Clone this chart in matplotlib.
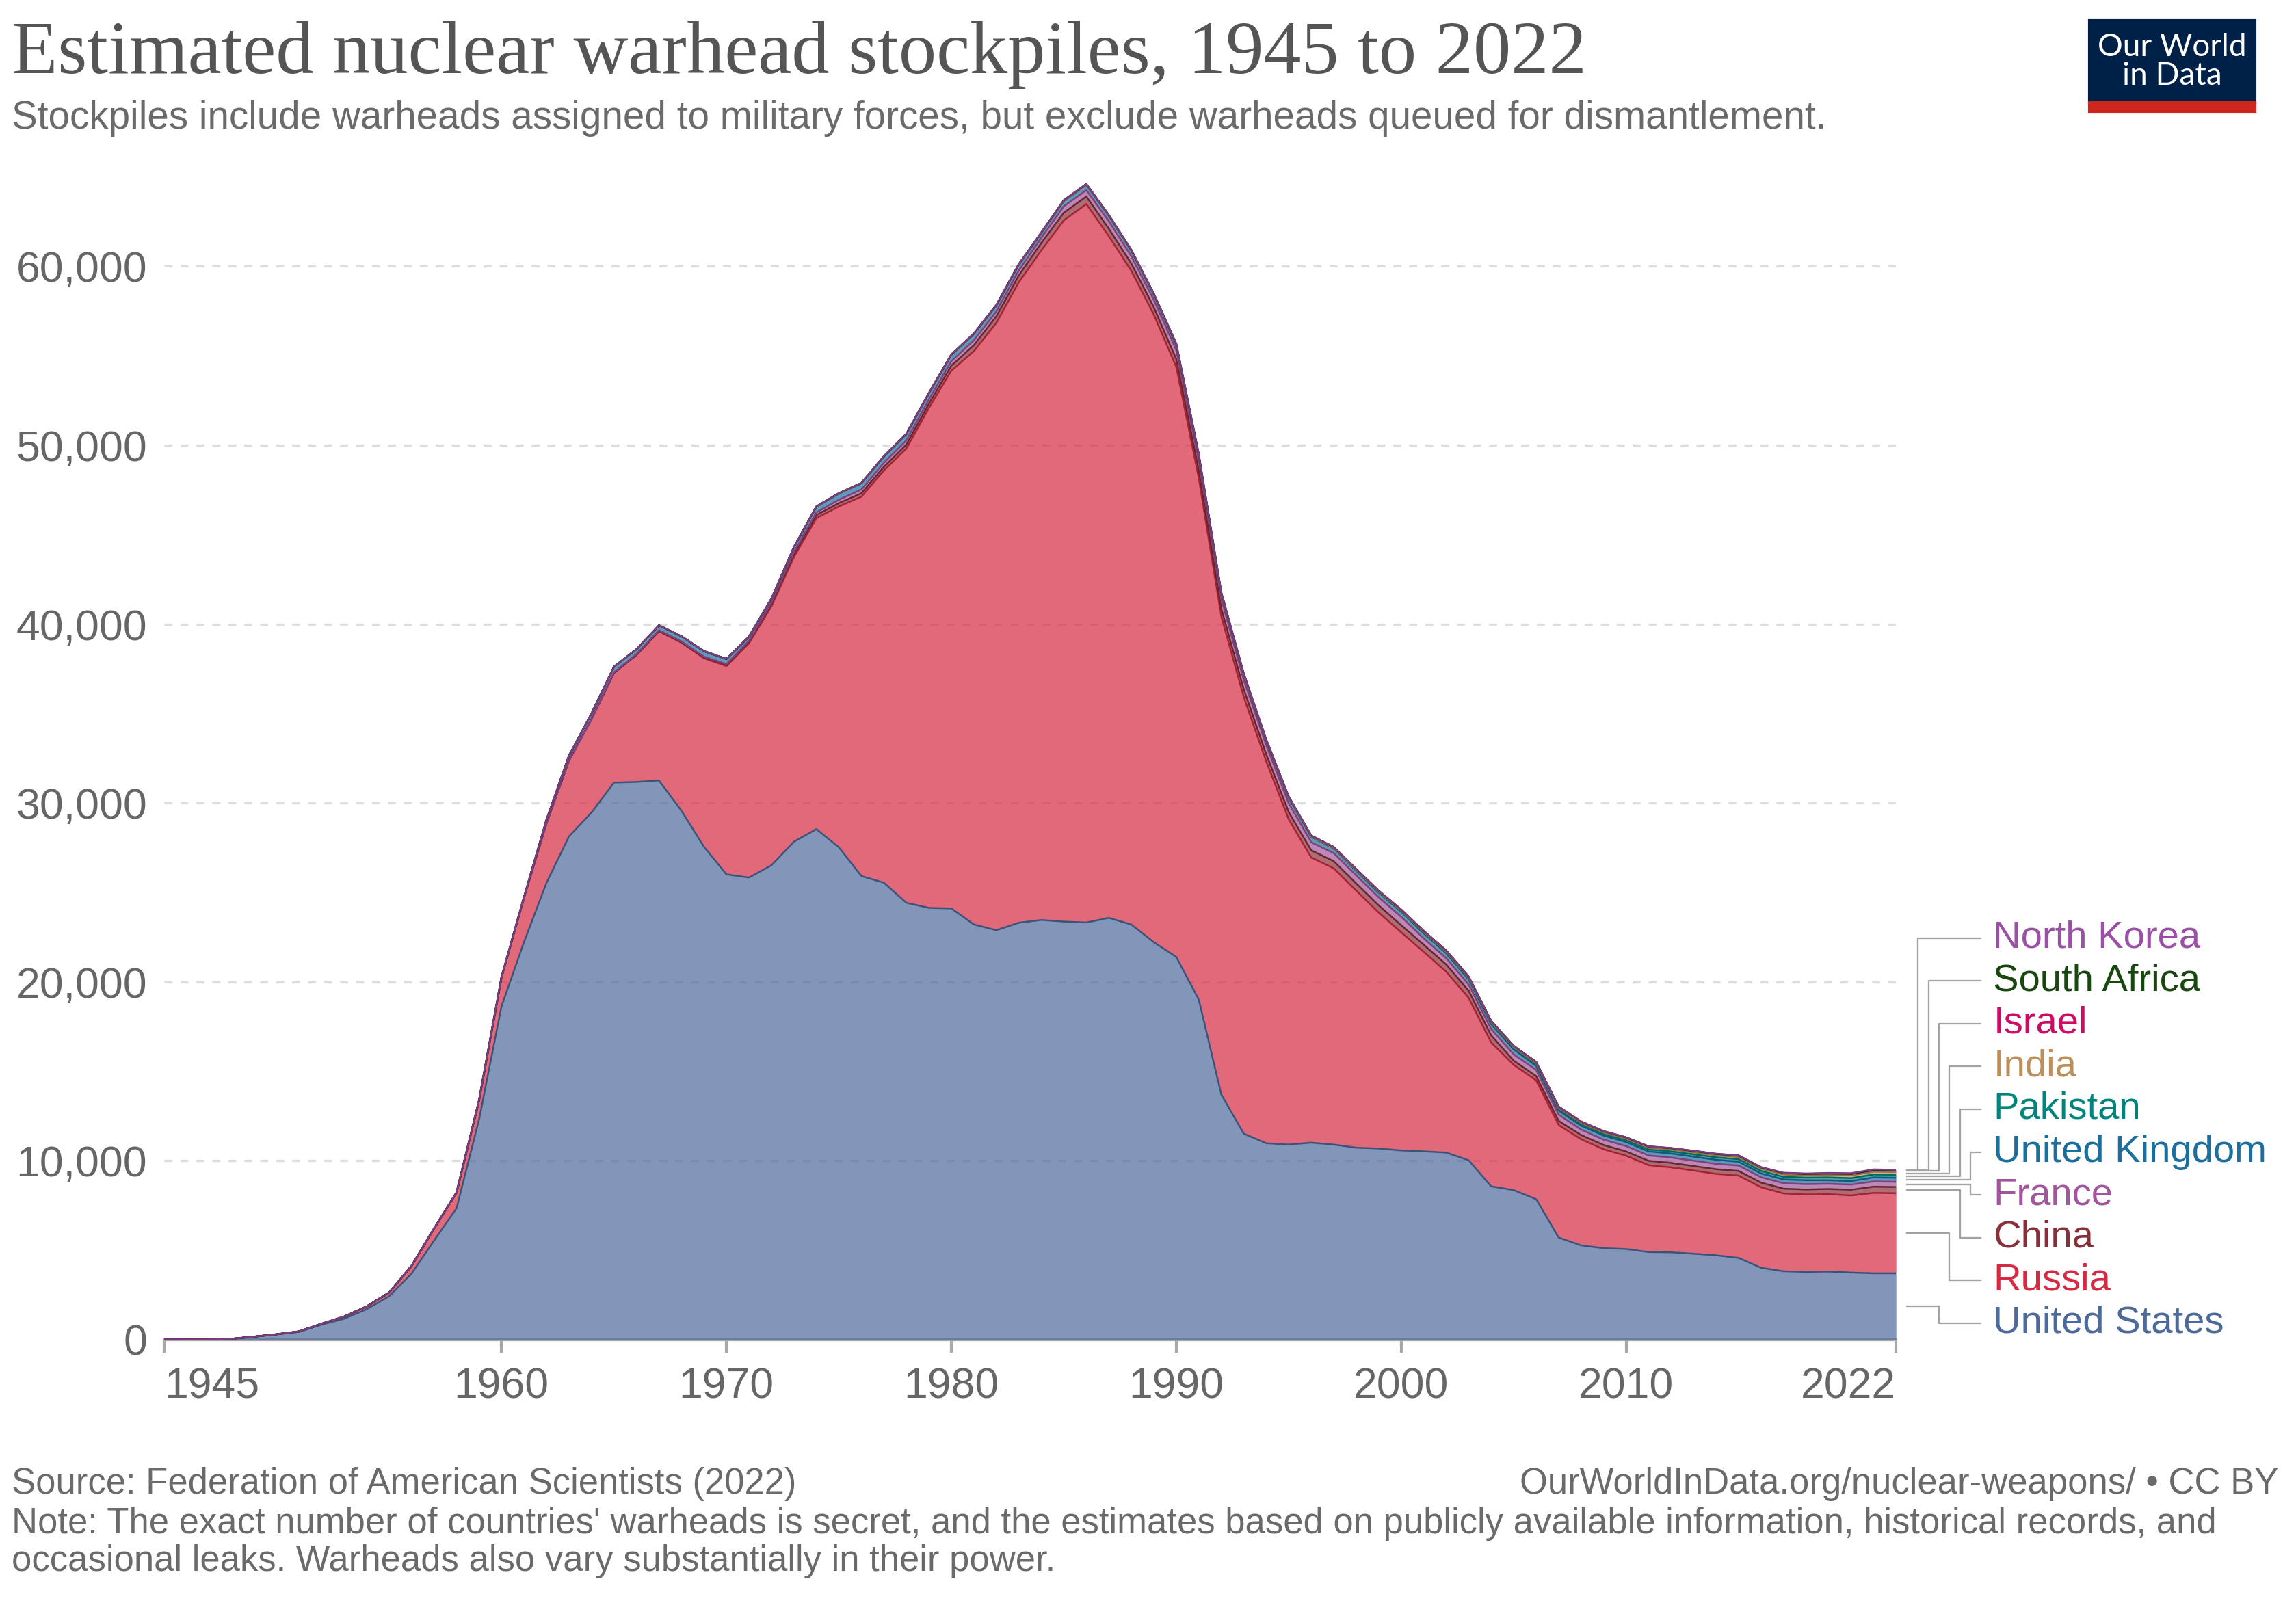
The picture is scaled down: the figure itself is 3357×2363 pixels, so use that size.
"""Estimated nuclear warhead stockpiles, 1945 to 2022 (stacked area, OWID style)."""

import matplotlib

matplotlib.use("Agg")
import matplotlib.pyplot as plt
import numpy as np
from matplotlib.patches import Rectangle

FIRST_YEAR, LAST_YEAR = 1945, 2022

# Warheads per country, one value per year from its start year up to 2022.
US_START = 1945
US = [2, 9, 13, 50, 170, 299, 438, 841, 1169, 1703,
      2422, 3692, 5543, 7345, 12298, 18638, 22229, 25540, 28133, 29463,
      31139, 31175, 31255, 29561, 27552, 26008, 25830, 26516, 27835, 28537,
      27519, 25914, 25542, 24418, 24138, 24104, 23208, 22886, 23305, 23459,
      23368, 23317, 23575, 23205, 22217, 21392, 19008, 13708, 11511, 10979,
      10904, 11011, 10903, 10732, 10685, 10577, 10526, 10457, 10027, 8570,
      8360, 7853, 5709, 5273, 5113, 5066, 4897, 4881, 4804, 4717,
      4571, 4018, 3822, 3785, 3805, 3750, 3708, 3708]

RUSSIA_START = 1949
RUSSIA = [1, 5, 25, 50, 120, 150,
          200, 426, 660, 869, 1060, 1605, 2471, 3322, 4238, 5221,
          6129, 7089, 8339, 9399, 10538, 11643, 13092, 14478, 15915, 17385,
          19055, 21205, 23044, 25393, 27935, 30062, 32049, 33952, 35804, 37431,
          39197, 40159, 38107, 36538, 35078, 32980, 29154, 26734, 24403, 21339,
          18179, 15942, 15442, 14368, 13188, 12188, 11152, 10114, 9076, 8038,
          7000, 6643, 6286, 5929, 5527, 5215, 4858, 4750, 4650, 4550,
          4600, 4500, 4350, 4330, 4330, 4310, 4495, 4477]

CHINA_START = 1964
CHINA = [1, 5, 20, 25, 35, 50, 75, 100, 130, 150,
         170, 185, 190, 200, 220, 235, 280, 330, 360, 380,
         414, 426, 423, 415, 411, 412, 434, 434, 434, 434,
         400, 400, 400, 400, 400, 400, 400, 400, 400, 400,
         400, 235, 235, 235, 235, 240, 240, 240, 250, 250,
         260, 260, 260, 270, 280, 290, 320, 350, 350]

FRANCE_START = 1964
FRANCE = [4, 32, 36, 36, 36, 36, 36, 45, 70, 116,
          145, 188, 212, 228, 235, 235, 250, 274, 274, 279,
          280, 360, 355, 420, 410, 410, 505, 540, 540, 525,
          510, 500, 450, 450, 450, 450, 470, 350, 350, 350,
          350, 350, 350, 350, 300, 300, 300, 300, 300, 300,
          300, 300, 300, 300, 300, 290, 290, 290, 290]

UK_START = 1953
UK = [1, 5, 10, 15, 20, 22, 25, 30, 50, 205,
      280, 310, 310, 270, 270, 280, 308, 280, 220, 220,
      275, 325, 350, 350, 350, 350, 350, 350, 350, 335,
      320, 270, 300, 300, 300, 300, 300, 300, 300, 300,
      300, 250, 300, 300, 260, 260, 260, 280, 280, 280,
      280, 280, 280, 225, 225, 225, 225, 225, 225, 225,
      225, 225, 215, 215, 215, 215, 195, 195, 225, 225]

PAKISTAN_START = 1998
PAKISTAN = [5, 10, 20, 30, 35, 40, 50, 60, 70, 75,
            80, 90, 100, 110, 120, 130, 140, 140, 140, 145,
            150, 160, 165, 165, 165]

INDIA_START = 1994
INDIA = [3, 10, 13, 18, 25, 30, 35, 40, 45, 50,
         55, 60, 65, 70, 70, 75, 80, 90, 100, 110,
         110, 120, 120, 130, 130, 140, 150, 156, 160]

ISRAEL_START = 1967
ISRAEL = [2, 4, 6, 8, 10, 12, 14, 16, 18, 20,
          22, 24, 26, 28, 31, 33, 35, 37, 40, 42,
          44, 46, 48, 51, 53, 55, 57, 59, 61, 63,
          65, 67, 69, 71, 72, 73, 75, 76, 78, 80,
          80, 80, 80, 80, 80, 80, 80, 80, 80, 80,
          80, 80, 80, 90, 90, 90]

SOUTH_AFRICA_START = 1982
SOUTH_AFRICA = [1, 2, 3, 4, 5, 6, 6, 6, 6, 0,
                0, 0, 0, 0, 0, 0, 0, 0, 0, 0,
                0, 0, 0, 0, 0, 0, 0, 0, 0, 0,
                0, 0, 0, 0, 0, 0, 0, 0, 0, 0, 0]

NORTH_KOREA_START = 2006
NORTH_KOREA = [2, 4, 6, 8, 10, 10, 10, 12, 15, 15,
               15, 20, 20, 30, 35, 40, 30]

# Bottom-to-top stacking order.
COUNTRIES = ["United States", "Russia", "China", "France", "United Kingdom",
             "Pakistan", "India", "Israel", "South Africa", "North Korea"]
SERIES = [(US_START, US), (RUSSIA_START, RUSSIA), (CHINA_START, CHINA),
          (FRANCE_START, FRANCE), (UK_START, UK), (PAKISTAN_START, PAKISTAN),
          (INDIA_START, INDIA), (ISRAEL_START, ISRAEL),
          (SOUTH_AFRICA_START, SOUTH_AFRICA), (NORTH_KOREA_START, NORTH_KOREA)]
COLORS = ["#4C6A9C", "#D52A42", "#883039", "#A2559C", "#1A6F9E",
          "#00847E", "#BC8E5A", "#CF0A66", "#18470F", "#9A50A5"]
# elbow slot of each connector (bottom-to-top order)
ELBOW_SLOT = [2, 3, 4, 5, 5, 4, 3, 2, 1, 0]

Y_TICKS = [0, 10000, 20000, 30000, 40000, 50000, 60000]
X_TICKS = [1945, 1960, 1970, 1980, 1990, 2000, 2010, 2022]

TEXT_GREY = "#555555"
TICK_GREY = "#666666"
NOTE_GREY = "#6a6a6a"


def full_series(start, values):
    """Pad a country's list with zeros before its first year."""
    years = np.arange(FIRST_YEAR, LAST_YEAR + 1)
    out = np.zeros(len(years))
    out[start - FIRST_YEAR:start - FIRST_YEAR + len(values)] = values
    return out


def main() -> None:
    plt.rcParams["font.family"] = ["Liberation Sans", "DejaVu Sans"]
    plt.rcParams["lines.scale_dashes"] = False

    fig = plt.figure(figsize=(3357 / 300, 2363 / 300), dpi=300)
    ax = fig.add_axes([0.0715, 0.1710, 0.7543, 0.7196])

    years = np.arange(FIRST_YEAR, LAST_YEAR + 1)
    data = np.array([full_series(s, v) for s, v in SERIES])
    tops = np.cumsum(data, axis=0)
    bottoms = tops - data

    for y in Y_TICKS[1:]:
        ax.axhline(y, color="#dddddd", lw=0.8, dashes=(2.8, 2.8), zorder=0)

    for i, color in enumerate(COLORS):
        ax.fill_between(years, bottoms[i], tops[i], color=color, alpha=0.7,
                        lw=0, zorder=2)
    for i, color in enumerate(COLORS):
        edge = tuple(c * 0.78 for c in matplotlib.colors.to_rgb(color))
        ax.plot(years, tops[i], color=edge, lw=0.6, zorder=3,
                solid_joinstyle="round")

    ax.set_xlim(FIRST_YEAR, LAST_YEAR)
    ax.set_ylim(0, 65000)
    for side in ("top", "right", "left"):
        ax.spines[side].set_visible(False)
    ax.spines["bottom"].set_color("#a8a8a8")
    ax.spines["bottom"].set_linewidth(1.0)
    ax.spines["bottom"].set_zorder(1)

    ax.set_yticks(Y_TICKS)
    ax.set_yticklabels([f"{v:,}" for v in Y_TICKS])
    ax.tick_params(axis="y", length=0, pad=6, labelsize=15, labelcolor=TICK_GREY)
    ax.set_xticks(X_TICKS)
    ax.set_xticklabels([str(v) for v in X_TICKS])
    ax.tick_params(axis="x", length=4.5, width=1.0, color="#a8a8a8", pad=5,
                   labelsize=15, labelcolor=TICK_GREY)
    labels = ax.get_xticklabels()
    labels[0].set_horizontalalignment("left")
    labels[-1].set_horizontalalignment("right")

    # Connector lines and labels to the right of the plot.
    label_y0, label_gap = 917, 2393
    x_start, x_elbow0, x_step, x_end, x_text = 1.0063, 1.0126, 0.0061, 1.0490, 1.0561
    trans = ax.get_yaxis_transform()
    for i, (name, color) in enumerate(zip(COUNTRIES, COLORS)):
        mid = (bottoms[i, -1] + tops[i, -1]) / 2
        ly = label_y0 + i * label_gap
        xe = x_elbow0 + ELBOW_SLOT[i] * x_step
        ax.plot([x_start, xe, xe, x_end], [mid, mid, ly, ly], color="#a3a3a3",
                lw=0.55, transform=trans, clip_on=False, zorder=1)
        ax.text(x_text, ly, name, color=color, fontsize=13.5, va="center",
                ha="left", transform=trans)

    fig.text(0.005, 0.9547, "Estimated nuclear warhead stockpiles, 1945 to 2022",
             family=["Liberation Serif", "DejaVu Serif"], fontsize=26.5,
             color=TEXT_GREY, va="baseline")
    fig.text(0.005, 0.9204,
             "Stockpiles include warheads assigned to military forces, but "
             "exclude warheads queued for dismantlement.",
             fontsize=13.6, color=NOTE_GREY, va="baseline")

    fig.text(0.005, 0.0758, "Source: Federation of American Scientists (2022)",
             fontsize=12.65, color=NOTE_GREY, va="baseline")
    fig.text(0.9923, 0.0758, "OurWorldInData.org/nuclear-weapons/ • CC BY",
             fontsize=12.65, color=NOTE_GREY, va="baseline", ha="right")
    fig.text(0.005, 0.0513,
             "Note: The exact number of countries' warheads is secret, and the "
             "estimates based on publicly available information, historical records, and",
             fontsize=12.65, color=NOTE_GREY, va="baseline")
    fig.text(0.005, 0.0278,
             "occasional leaks. Warheads also vary substantially in their power.",
             fontsize=12.65, color=NOTE_GREY, va="baseline")

    # Our World in Data logo
    fig.patches.append(Rectangle((0.9101, 0.9365), 0.0720, 0.0508,
                                 transform=fig.transFigure, color="#002147"))
    fig.patches.append(Rectangle((0.9101, 0.9310), 0.0720, 0.0055,
                                 transform=fig.transFigure, color="#CE261E"))
    fig.text(0.9461, 0.9619, "Our World\nin Data", color="white", fontsize=11,
             ha="center", va="center", linespacing=1.0,
             family=["Lato", "DejaVu Sans"])

    fig.savefig("out.png", dpi=300)
    plt.close(fig)


if __name__ == "__main__":
    main()
